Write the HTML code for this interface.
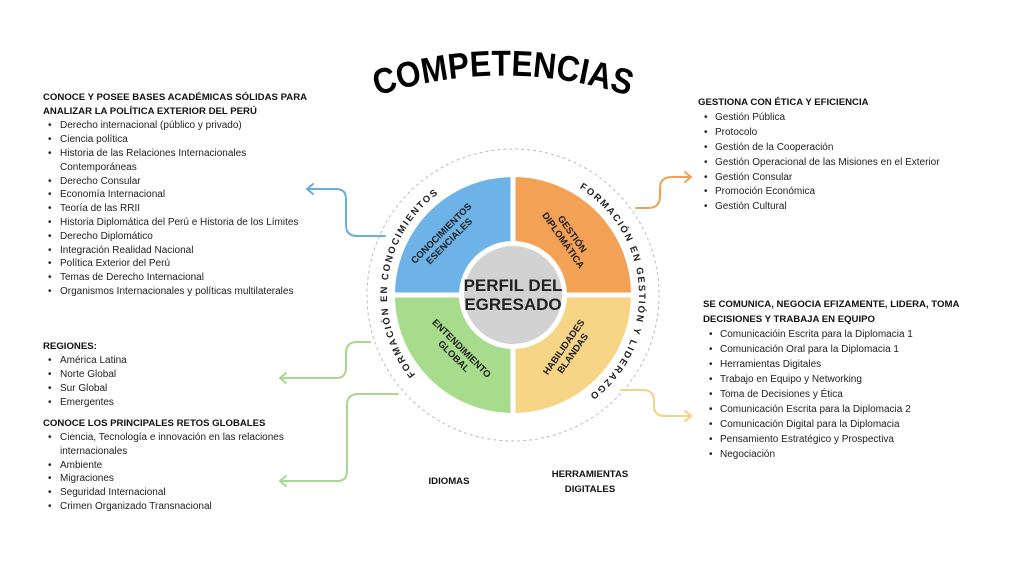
<!DOCTYPE html>
<html><head><meta charset="utf-8"><style>
html,body{margin:0;padding:0;background:#fff;}
svg{display:block;font-family:"Liberation Sans",sans-serif;}
.h{font-weight:bold;font-size:9.6px;fill:#111;}
.t{font-size:10px;fill:#222;}
.q{font-weight:bold;font-size:9.5px;fill:#1c1c1c;}
.r{font-weight:bold;font-size:9.5px;fill:#222;letter-spacing:1.8px;}
</style></head><body>
<svg width="1024" height="576" viewBox="0 0 1024 576" xmlns="http://www.w3.org/2000/svg">
<defs>
<path id="tarc" d="M355,104 A400,400 0 0 1 651,104"/>
<path id="larc" d="M423.9,384.1 A126,126 0 0 1 450,185.9"/>
<path id="rarc" d="M572.2,183.8 A126,126 0 0 1 581.6,400.7"/>
</defs>
<text font-size="36" font-weight="bold" fill="#000"><textPath href="#tarc" startOffset="50%" text-anchor="middle" textLength="256" lengthAdjust="spacingAndGlyphs">COMPETENCIAS</textPath></text>

<circle cx="513" cy="295" r="146" fill="none" stroke="#bbb" stroke-width="1" stroke-dasharray="3,3"/>
<path d="M513,295 L395,295 A118,118 0 0 1 513,177 Z" fill="#6db3e8"/>
<path d="M513,295 L513,177 A118,118 0 0 1 631,295 Z" fill="#f2a155"/>
<path d="M513,295 L395,295 A118,118 0 0 0 513,413 Z" fill="#a6dc8c"/>
<path d="M513,295 L513,413 A118,118 0 0 0 631,295 Z" fill="#f6d586"/>
<line x1="390" y1="295" x2="636" y2="295" stroke="#fff" stroke-width="5"/>
<line x1="513" y1="172" x2="513" y2="418" stroke="#fff" stroke-width="5"/>
<circle cx="513" cy="295" r="54" fill="#fff"/>
<circle cx="513" cy="295" r="49" fill="#d2d2d2"/>
<text x="513" y="291" text-anchor="middle" font-weight="bold" font-size="17" fill="#222">PERFIL DEL</text>
<text x="513" y="310" text-anchor="middle" font-weight="bold" font-size="17" fill="#222">EGRESADO</text>

<g transform="translate(445,237) rotate(-45)"><text class="q" text-anchor="middle" y="-2">CONOCIMIENTOS</text><text class="q" text-anchor="middle" y="9">ESENCIALES</text></g>
<g transform="translate(568,237) rotate(55)"><text class="q" text-anchor="middle" y="-2">GESTIÓN</text><text class="q" text-anchor="middle" y="9">DIPLOMÁTICA</text></g>
<g transform="translate(458,352) rotate(45)"><text class="q" text-anchor="middle" y="-2">ENTENDIMIENTO</text><text class="q" text-anchor="middle" y="9">GLOBAL</text></g>
<g transform="translate(568,350) rotate(-55)"><text class="q" text-anchor="middle" y="-2">HABILIDADES</text><text class="q" text-anchor="middle" y="9">BLANDAS</text></g>

<text class="r"><textPath href="#larc" startOffset="50%" text-anchor="middle">FORMACIÓN EN CONOCIMIENTOS</textPath></text>
<text class="r"><textPath href="#rarc" startOffset="50%" text-anchor="middle">FORMACIÓN EN GESTIÓN Y LIDERAZGO</textPath></text>

<g fill="none" stroke-width="2" stroke-linecap="round" stroke-linejoin="round">
<path d="M385,236 H357 Q346,236 346,225 V199 Q346,189 336,189 H307" stroke="#6aaee0"/>
<path d="M313,184 L307,189 L313,194" stroke="#6aaee0"/>
<path d="M636,208 H648 Q660,208 660,196 V188 Q660,177 672,177 H691" stroke="#f0a055"/>
<path d="M685,172 L691,177 L685,182" stroke="#f0a055"/>
<path d="M370,342 H357 Q346,342 346,353 V368 Q346,378 336,378 H280" stroke="#a8d890"/>
<path d="M286,373 L280,378 L286,383" stroke="#a8d890"/>
<path d="M398,394 H358 Q347,394 347,405 V471 Q347,481 337,481 H280" stroke="#a8d890"/>
<path d="M286,476 L280,481 L286,486" stroke="#a8d890"/>
<path d="M621,390 H643 Q654,390 654,401 V406 Q654,416 665,416 H691" stroke="#f4d27e"/>
<path d="M685,411 L691,416 L685,421" stroke="#f4d27e"/>
</g>

<text class="h" x="43" y="100">CONOCE Y POSEE BASES ACADÉMICAS SÓLIDAS PARA</text>
<text class="h" x="43" y="114">ANALIZAR LA POLÍTICA EXTERIOR DEL PERÚ</text>
<g class="t">
<text x="48" y="128">•</text><text x="60" y="128">Derecho internacional (público y privado)</text>
<text x="48" y="142">•</text><text x="60" y="142">Ciencia política</text>
<text x="48" y="156">•</text><text x="60" y="156">Historia de las Relaciones Internacionales</text>
<text x="60" y="170">Contemporáneas</text>
<text x="48" y="184">•</text><text x="60" y="184">Derecho Consular</text>
<text x="48" y="197">•</text><text x="60" y="197">Economía Internacional</text>
<text x="48" y="211">•</text><text x="60" y="211">Teoría de las RRII</text>
<text x="48" y="225">•</text><text x="60" y="225">Historia Diplomática del Perú e Historia de los Límites</text>
<text x="48" y="239">•</text><text x="60" y="239">Derecho Diplomático</text>
<text x="48" y="253">•</text><text x="60" y="253">Integración Realidad Nacional</text>
<text x="48" y="266">•</text><text x="60" y="266">Política Exterior del Perú</text>
<text x="48" y="280">•</text><text x="60" y="280">Temas de Derecho Internacional</text>
<text x="48" y="294">•</text><text x="60" y="294">Organismos Internacionales y políticas multilaterales</text>
</g>
<text class="h" x="43" y="349">REGIONES:</text>
<g class="t">
<text x="48" y="363">•</text><text x="60" y="363">América Latina</text>
<text x="48" y="377">•</text><text x="60" y="377">Norte Global</text>
<text x="48" y="391">•</text><text x="60" y="391">Sur Global</text>
<text x="48" y="405">•</text><text x="60" y="405">Emergentes</text>
</g>
<text class="h" x="43" y="426">CONOCE LOS PRINCIPALES RETOS GLOBALES</text>
<g class="t">
<text x="48" y="440">•</text><text x="60" y="440">Ciencia, Tecnología e innovación en las relaciones</text>
<text x="60" y="454">internacionales</text>
<text x="48" y="468">•</text><text x="60" y="468">Ambiente</text>
<text x="48" y="481">•</text><text x="60" y="481">Migraciones</text>
<text x="48" y="495">•</text><text x="60" y="495">Seguridad Internacional</text>
<text x="48" y="509">•</text><text x="60" y="509">Crimen Organizado Transnacional</text>
</g>

<text class="h" x="698" y="105">GESTIONA CON ÉTICA Y EFICIENCIA</text>
<g class="t">
<text x="704" y="120">•</text><text x="715" y="120">Gestión Pública</text>
<text x="704" y="135">•</text><text x="715" y="135">Protocolo</text>
<text x="704" y="150">•</text><text x="715" y="150">Gestión de la Cooperación</text>
<text x="704" y="165">•</text><text x="715" y="165">Gestión Operacional de las Misiones en el Exterior</text>
<text x="704" y="180">•</text><text x="715" y="180">Gestión Consular</text>
<text x="704" y="194">•</text><text x="715" y="194">Promoción Económica</text>
<text x="704" y="209">•</text><text x="715" y="209">Gestión Cultural</text>
</g>
<text class="h" x="703" y="307">SE COMUNICA, NEGOCIA EFIZAMENTE, LIDERA, TOMA</text>
<text class="h" x="703" y="322">DECISIONES Y TRABAJA EN EQUIPO</text>
<g class="t">
<text x="709" y="337">•</text><text x="720" y="337">Comunicacióin Escrita para la Diplomacia 1</text>
<text x="709" y="352">•</text><text x="720" y="352">Comunicación Oral para la Diplomacia 1</text>
<text x="709" y="367">•</text><text x="720" y="367">Herramientas Digitales</text>
<text x="709" y="382">•</text><text x="720" y="382">Trabajo en Equipo y Networking</text>
<text x="709" y="397">•</text><text x="720" y="397">Toma de Decisiones y Ética</text>
<text x="709" y="412">•</text><text x="720" y="412">Comunicación Escrita para la Diplomacia 2</text>
<text x="709" y="427">•</text><text x="720" y="427">Comunicación Digital para la Diplomacia</text>
<text x="709" y="442">•</text><text x="720" y="442">Pensamiento Estratégico y Prospectiva</text>
<text x="709" y="457">•</text><text x="720" y="457">Negociación</text>
</g>

<text class="h" x="449" y="484" text-anchor="middle">IDIOMAS</text>
<text class="h" x="590" y="477" text-anchor="middle">HERRAMIENTAS</text>
<text class="h" x="590" y="492" text-anchor="middle">DIGITALES</text>
</svg>
</body></html>
